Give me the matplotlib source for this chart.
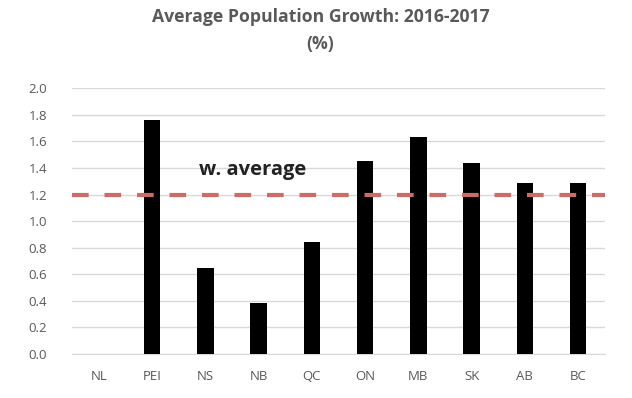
import matplotlib.pyplot as plt

provinces = ['NL', 'PEI', 'NS', 'NB', 'QC', 'ON', 'MB', 'SK', 'AB', 'BC']
growth = [0.0, 1.76, 0.65, 0.38, 0.84, 1.45, 1.63, 1.44, 1.29, 1.29]
w_average = 1.2
y_ticks = [0.0, 0.2, 0.4, 0.6, 0.8, 1.0, 1.2, 1.4, 1.6, 1.8, 2.0]

plt.rcParams['font.family'] = ['Open Sans', 'DejaVu Sans']
grey = '#595959'

fig = plt.figure(figsize=(6.32, 3.98), dpi=100)
ax = fig.add_axes([0.114, 0.111, 0.843, 0.667])

x = list(range(len(provinces)))
ax.bar(x, growth, width=0.31, color='black', zorder=3)
ax.axhline(w_average, color='#CD6B66', linewidth=3, dashes=(4, 3.8), zorder=4)
ax.text(1.88, 1.385, 'w. average', fontsize=14.5, fontweight='bold', color='#222222',
        va='center', ha='left', zorder=5)

ax.set_xlim(-0.5, len(provinces) - 0.5)
ax.set_ylim(0, 2.0)
ax.set_yticks(y_ticks)
ax.set_yticklabels(['%.1f' % v for v in y_ticks])
ax.set_xticks(x)
ax.set_xticklabels(provinces)
ax.tick_params(axis='y', length=0, pad=18, labelsize=9.5, labelcolor=grey)
ax.tick_params(axis='x', length=0, pad=12, labelsize=9.5, labelcolor=grey)
ax.grid(axis='y', color='#D9D9D9', linewidth=1, zorder=0)
for s in ['top', 'right', 'left']:
    ax.spines[s].set_visible(False)
ax.spines['bottom'].set_color('#D9D9D9')

fig.text(0.507, 0.979, 'Average Population Growth: 2016-2017\n(%)', ha='center', va='top',
         fontsize=12.7, fontweight='bold', color=grey, linespacing=1.6)

fig.savefig('out.png', dpi=100)
